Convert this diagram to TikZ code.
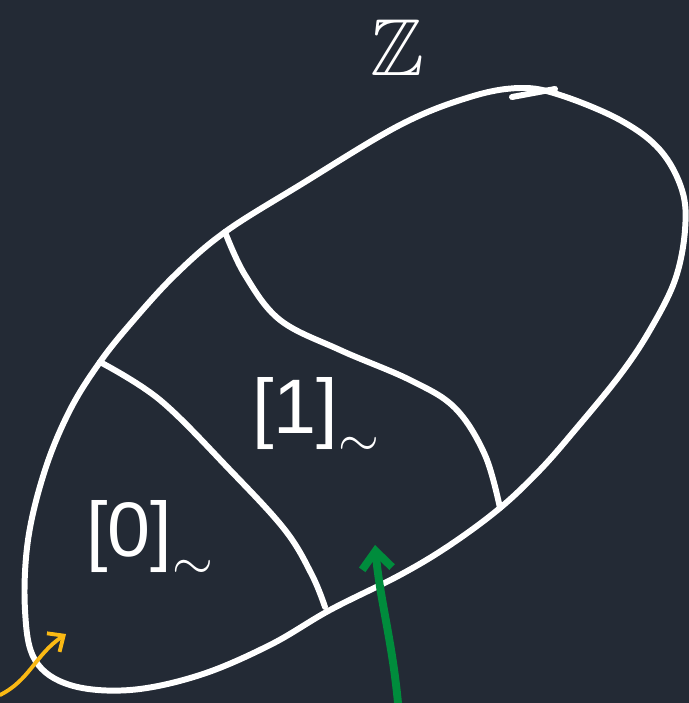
\documentclass[tikz,border=0pt]{standalone}
\usepackage{amssymb}
\usepackage{fontspec}
\setsansfont{Liberation Sans}
\definecolor{boardbg}{RGB}{35,42,53}
\definecolor{chalkwhite}{RGB}{255,255,255}
\definecolor{markgreen}{RGB}{0,140,60}
\definecolor{markyellow}{RGB}{250,185,20}
\usetikzlibrary{arrows.meta,positioning}
\tikzset{
  chalk/.style={draw=chalkwhite,line width=3.4pt,line cap=round,line join=round},
  cls/.style={text=chalkwhite,font=\sffamily\fontsize{44}{48}\selectfont,inner sep=0pt},
  setname/.style={text=chalkwhite,font=\fontsize{46}{48}\selectfont,inner sep=0pt},
  garr/.style={-{Straight Barb[length=3.5mm,width=6mm]},draw=markgreen,line width=4.5pt,line cap=round},
  yarr/.style={-{Straight Barb[length=2.5mm,width=4.5mm]},draw=markyellow,line width=2.2pt,line cap=round},
}
\newcommand{\eqcls}[1]{[#1]\raisebox{-0.3em}{\scalebox{1.2}{$\sim$}}}
\begin{document}
\begin{tikzpicture}[x=0.02cm,y=-0.02cm]
    \fill[boardbg] (0,0) rectangle (689,703);
    \useasboundingbox (0,0) rectangle (689,703);
    % outline of the set
    \draw[chalk] plot[smooth cycle,tension=0.6] coordinates {(520,88) (560,95) (620,120) (660,150) (682,190) (685,230) (675,280) (650,330) (620,375) (575,430) (540,470) (500,508) (450,545) (400,575) (330,610) (270,645) (200,675) (130,690) (70,685) (35,660) (25,610) (28,540) (45,470) (70,410) (100,362) (132,322) (175,275) (225,232) (300,185) (400,125) (470,97)};
    \draw[chalk] (512,97) -- (555,89);
    % the two cuts
    \draw[chalk] plot[smooth,tension=0.6] coordinates {(100,362) (160,400) (230,470) (285,530) (312,575) (325,607)};
    \draw[chalk] plot[smooth,tension=0.6] coordinates {(225,232) (245,275) (280,320) (340,350) (410,380) (455,408) (485,455) (500,508)};
    % labels
    \node[setname] (zz) at (397,48) {$\mathbb{Z}$};
    \node[cls,anchor=west] (c0) at (86,540) {\eqcls{0}};
    \node[cls,anchor=west] (c1) at (252,417) {\eqcls{1}};
    % arrows
    \coordinate (gfoot) at (398,703);
    \coordinate (gtip) at (375,545);
    \draw[garr] (gfoot) .. controls (392,640) and (380,600) .. (gtip);
    \coordinate (yfoot) at (0,695);
    \coordinate (ytip) at (66,634);
    \draw[yarr] (yfoot) .. controls (30,680) and (35,655) .. (ytip);
  \end{tikzpicture}
\end{document}
